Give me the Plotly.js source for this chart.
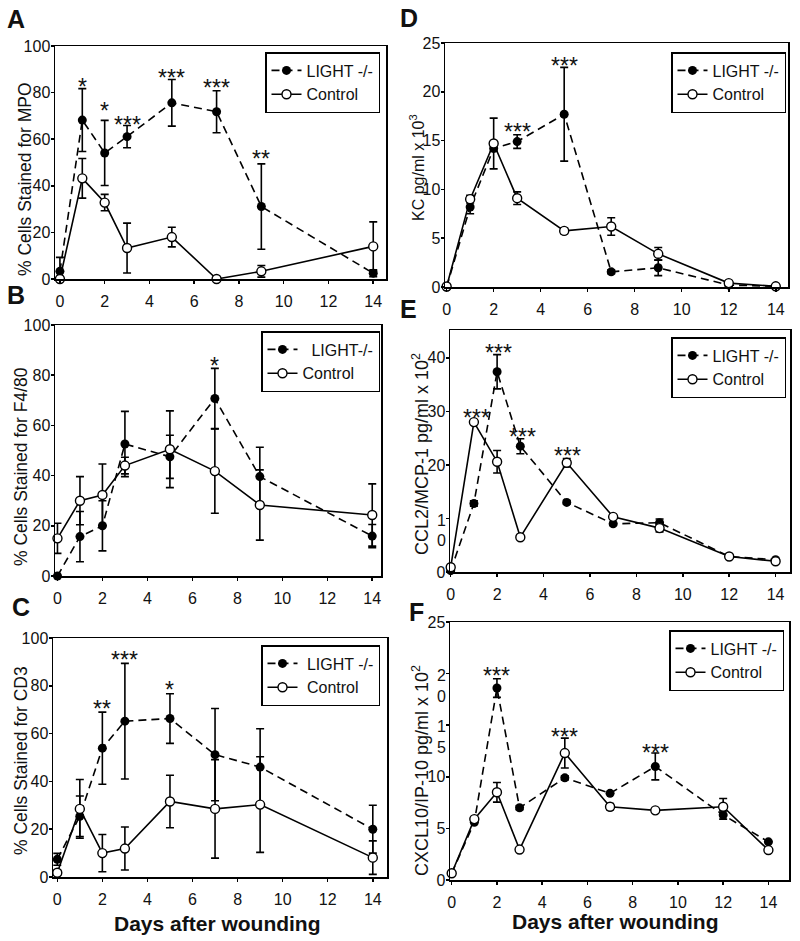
<!DOCTYPE html>
<html><head><meta charset="utf-8">
<script src="https://cdn.plot.ly/plotly-3.0.1.min.js"></script>
<style>html,body{margin:0;padding:0;background:#fff}#chart{width:800px;height:941px}</style>
</head><body><div id="chart"></div>
<script>
// ---------- DATA ----------
const daysABC = [0, 1, 2, 3, 5, 7, 9, 14];
const daysDEF = [0, 1, 2, 3, 5, 7, 9, 12, 14];

// A: % Cells Stained for MPO
const A_light = [3.3, 68.2, 54.1, 61.1, 75.6, 71.8, 31.1, 2.5];
const A_lightErr = [6, 13.5, 14, 4.8, 10, 9, 18.3, 1.5];
const A_ctrl = [0, 43.2, 32.8, 13.3, 18, 0, 3.3, 14];
const A_ctrlErr = [0, 8.5, 3.5, 10.7, 4.2, 0, 2.5, 10.5];
const A_starX = [1, 2, 3, 5, 7, 9];
const A_starY = [85.3, 75.3, 69, 89.3, 84.9, 54.6];
const A_starT = ['*', '*', '***', '***', '***', '**'];

// B: % Cells Stained for F4/80
const B_light = [0, 15.7, 20, 52.6, 47.5, 70.7, 39.6, 15.9];
const B_lightErr = [0, 10, 10, 13, 8.6, 12, 11.7, 4.6];
const B_ctrl = [15, 30, 32.3, 44, 50.5, 41.8, 28.3, 24.3];
const B_ctrlErr = [6, 9.6, 12.3, 3.3, 15.3, 16.8, 14, 12.4];
const B_starX = [7];
const B_starY = [86.3];
const B_starT = ['*'];

// C: % Cells Stained for CD3
const C_light = [7.4, 25.4, 53.9, 65.2, 66.3, 51.2, 46, 20];
const C_lightErr = [2.5, 8.5, 15.1, 24.2, 10.4, 19.3, 16, 10];
const C_ctrl = [1.8, 28.5, 10, 11.9, 31.6, 28.5, 30.3, 8.1];
const C_ctrlErr = [1, 12.3, 7.8, 9, 11, 20.6, 20, 7];
const C_starX = [2, 3, 5];
const C_starY = [73.4, 93.7, 81];
const C_starT = ['**', '***', '*'];

// D: KC pg/ml x 10^3
const D_light = [0, 8.2, 14.2, 14.9, 17.7, 1.55, 1.97, 0.2, 0.07];
const D_lightErr = [0, 0.7, 0.3, 0.7, 4.8, 0.2, 0.8, 0, 0];
const D_ctrl = [0.05, 9.0, 14.7, 9.1, 5.75, 6.2, 3.4, 0.4, 0.07];
const D_ctrlErr = [0, 0.4, 2.6, 0.65, 0.3, 0.9, 0.65, 0, 0];
const D_starX = [3, 5];
const D_starY = [16.55, 23.4];
const D_starT = ['***', '***'];

// E: CCL2/MCP-1 pg/ml x 10^2
const E_light = [0.25, 12.8, 37.4, 23.5, 13.0, 9.0, 9.2, 2.9, 2.3];
const E_lightErr = [0, 0.5, 3.2, 1.4, 0.3, 0.3, 0.7, 0, 0];
const E_ctrl = [0.9, 28.0, 20.6, 6.5, 20.4, 10.3, 8.2, 2.9, 2.0];
const E_ctrlErr = [0, 0, 2.1, 0, 0.8, 0, 0.7, 0, 0];
const E_starX = [1.1, 2.05, 3.1, 5.05];
const E_starY = [30, 42.2, 26.6, 22.9];
const E_starT = ['***', '***', '***', '***'];
const E_tickVals = [0, 20, 30, 40];
const E_tickText = ['0', '20', '30', '40'];
const E_wrapVals = [10];
const E_wrapText = ['1<br>0'];

// F: CXCL10/IP-10 pg/ml x 10^2
const F_light = [0.65, 5.6, 18.6, 7.0, 9.9, 8.4, 11.0, 6.3, 3.7];
const F_lightErr = [0, 0, 0.9, 0.2, 0.2, 0, 1.3, 0.4, 0];
const F_ctrl = [0.65, 5.9, 8.5, 2.95, 12.3, 7.1, 6.75, 7.1, 2.9];
const F_ctrlErr = [0, 0, 0.95, 0, 1.45, 0.3, 0, 0.8, 0];
const F_starX = [2, 5, 9];
const F_starY = [20.4, 14.5, 13];
const F_starT = ['***', '***', '***'];
const F_tickVals = [0, 5, 10, 25];
const F_tickText = ['0', '5', '10', '25'];
const F_wrapVals = [15, 20];
const F_wrapText = ['1<br>5', '2<br>0'];

const xTickVals = [0, 2, 4, 6, 8, 10, 12, 14];

// ---------- LAYOUT HELPERS ----------
const W = 800, H = 941;
const FONT = 'Liberation Sans, Arial, Helvetica, sans-serif';
const px = x => x / W;
const py = y => 1 - y / H;

const panels = [
  {id: '', x: [55, 386], y: [46, 279], xr: [-0.22, 14.57], yr: [0, 100], dtick: 20,
   days: daysABC, light: A_light, lErr: A_lightErr, ctrl: A_ctrl, cErr: A_ctrlErr,
   sx: A_starX, sy: A_starY, st: A_starT, nameL: 'LIGHT -/-', nameC: 'Control', leg: [380, 52]},
  {id: '2', x: [55, 381], y: [325, 576], xr: [-0.11, 14.39], yr: [0, 100], dtick: 20,
   days: daysABC, light: B_light, lErr: B_lightErr, ctrl: B_ctrl, cErr: B_ctrlErr,
   sx: B_starX, sy: B_starY, st: B_starT, nameL: '\u00a0 LIGHT-/-', nameC: 'Control', leg: [380, 331]},
  {id: '3', x: [53, 387], y: [638, 877], xr: [-0.19, 14.63], yr: [0, 100], dtick: 20,
   days: daysABC, light: C_light, lErr: C_lightErr, ctrl: C_ctrl, cErr: C_ctrlErr,
   sx: C_starX, sy: C_starY, st: C_starT, nameL: '\u00a0LIGHT -/-', nameC: '\u00a0Control', leg: [380, 645]},
  {id: '4', x: [445, 788], y: [43, 287], xr: [-0.07, 14.52], yr: [0, 25], dtick: 5,
   days: daysDEF, light: D_light, lErr: D_lightErr, ctrl: D_ctrl, cErr: D_ctrlErr,
   sx: D_starX, sy: D_starY, st: D_starT, nameL: 'LIGHT -/-', nameC: 'Control', leg: [786, 52]},
  {id: '5', x: [450, 790], y: [330, 572], xr: [-0.03, 14.62], yr: [0, 45.2], tv: E_tickVals, tt: E_tickText,
   wv: E_wrapVals, wt: E_wrapText, ov: '7',
   days: daysDEF, light: E_light, lErr: E_lightErr, ctrl: E_ctrl, cErr: E_ctrlErr,
   sx: E_starX, sy: E_starY, st: E_starT, nameL: 'LIGHT -/-', nameC: 'Control', leg: [786, 337]},
  {id: '6', x: [450, 789], y: [622, 880], xr: [-0.075, 14.91], yr: [0, 25], tv: F_tickVals, tt: F_tickText,
   wv: F_wrapVals, wt: F_wrapText, ov: '8',
   days: daysDEF, light: F_light, lErr: F_lightErr, ctrl: F_ctrl, cErr: F_ctrlErr,
   sx: F_starX, sy: F_starY, st: F_starT, nameL: 'LIGHT -/-', nameC: 'Control', leg: [784, 630]}
];

const traces = [];
const layout = {
  width: W, height: H, margin: {l: 0, r: 0, t: 0, b: 0},
  paper_bgcolor: '#fff', plot_bgcolor: '#fff',
  font: {family: FONT, color: '#111', size: 16},
  showlegend: true, annotations: []
};

const axBase = {
  showgrid: false, zeroline: false, showline: true, mirror: true,
  linecolor: '#000', linewidth: 1.5, ticks: 'outside', ticklen: 3, tickwidth: 1.5, tickcolor: '#000',
  tickfont: {family: FONT, size: 16, color: '#111'}, fixedrange: true
};

panels.forEach((p, i) => {
  const xa = 'x' + p.id, ya = 'y' + p.id;
  const legId = 'legend' + p.id;
  const errStyle = arr => ({type: 'data', array: arr, visible: true, color: '#000', thickness: 1.6, width: 4});
  traces.push({
    x: p.days, y: p.light, xaxis: xa, yaxis: ya, name: p.nameL, legend: legId,
    mode: 'lines+markers', type: 'scatter', cliponaxis: false,
    line: {color: '#000', width: 1.6, dash: '8px,5px'},
    marker: {color: '#000', size: 9, symbol: 'circle'},
    error_y: errStyle(p.lErr)
  });
  traces.push({
    x: p.days, y: p.ctrl, xaxis: xa, yaxis: ya, name: p.nameC, legend: legId,
    mode: 'lines+markers', type: 'scatter', cliponaxis: false,
    line: {color: '#000', width: 1.6},
    marker: {color: '#fff', size: 9, symbol: 'circle', line: {color: '#000', width: 1.4}},
    error_y: errStyle(p.cErr)
  });
  layout['xaxis' + p.id] = Object.assign({}, axBase, {
    domain: [px(p.x[0]), px(p.x[1])], range: p.xr, anchor: ya,
    tickmode: 'array', tickvals: xTickVals, ticklabelstandoff: 4
  });
  const yax = Object.assign({}, axBase, {
    domain: [py(p.y[1]), py(p.y[0])], range: p.yr, anchor: xa, ticklabelstandoff: -3
  });
  if (p.tv) { yax.tickmode = 'array'; yax.tickvals = p.tv; yax.ticktext = p.tt; }
  else { yax.dtick = p.dtick; yax.tick0 = 0; }
  layout['yaxis' + p.id] = yax;
  if (p.ov) {
    // overlay axis carrying the wrapped (two-line) tick labels, first line at the tick
    layout['yaxis' + p.ov] = {
      overlaying: ya, anchor: xa, side: 'left', range: p.yr, fixedrange: true,
      showgrid: false, zeroline: false, showline: false,
      ticks: 'outside', ticklen: 3, tickwidth: 1.5, tickcolor: '#000',
      tickmode: 'array', tickvals: p.wv, ticktext: p.wt, ticklabelshift: 12, ticklabelstandoff: -3,
      tickfont: {family: FONT, size: 16, color: '#111'}
    };
    traces.push({x: [], y: [], xaxis: xa, yaxis: 'y' + p.ov, type: 'scatter', mode: 'markers',
      showlegend: false, hoverinfo: 'skip'});
  }
  layout[legId] = {
    x: px(p.leg[0]), y: py(p.leg[1]), xanchor: 'right', yanchor: 'top', xref: 'paper', yref: 'paper',
    bgcolor: '#fff', bordercolor: '#000', borderwidth: 1.5,
    font: {family: FONT, size: 16, color: '#111'}, tracegroupgap: 0, itemwidth: 30
  };
  p.sx.forEach((sx, k) => {
    layout.annotations.push({
      x: sx, y: p.sy[k], xref: xa, yref: ya, text: p.st[k], showarrow: false,
      font: {family: FONT, size: 23, color: '#111'}, xanchor: 'center', yanchor: 'middle', yshift: -7
    });
  });
});

// axis titles and panel letters (as paper annotations)
const yTitles = [
  {t: '% Cells Stained for MPO', x: 25, y: 179, s: 17.5},
  {t: '% Cells Stained for F4/80', x: 21, y: 467, s: 17.5},
  {t: '% Cells Stained for CD3', x: 21, y: 761, s: 17.5},
  {t: 'KC pg/ml x 10<sup>3</sup>', x: 417, y: 168, s: 16},
  {t: 'CCL2/MCP-1 pg/ml x 10<sup>2</sup>', x: 420, y: 454, s: 18},
  {t: 'CXCL10/IP-10 pg/ml x 10<sup>2</sup>', x: 420, y: 771, s: 18}
];
yTitles.forEach(a => layout.annotations.push({
  x: px(a.x), y: py(a.y), xref: 'paper', yref: 'paper', text: a.t, textangle: -90,
  showarrow: false, xanchor: 'center', yanchor: 'middle', font: {family: FONT, size: a.s, color: '#111'}
}));
[[217, 923], [615, 921]].forEach(c => layout.annotations.push({
  x: px(c[0]), y: py(c[1]), xref: 'paper', yref: 'paper', text: '<b>Days after wounding</b>',
  showarrow: false, xanchor: 'center', yanchor: 'middle', font: {family: FONT, size: 21, color: '#111'}
}));
[['A', 16, 19], ['B', 16, 295], ['C', 21, 607], ['D', 409, 18], ['E', 408, 309], ['F', 416, 612]].forEach(c =>
  layout.annotations.push({
    x: px(c[1]), y: py(c[2]), xref: 'paper', yref: 'paper', text: '<b>' + c[0] + '</b>',
    showarrow: false, xanchor: 'center', yanchor: 'middle', font: {family: FONT, size: 25, color: '#111'}
  }));

Plotly.newPlot('chart', traces, layout, {displayModeBar: false, staticPlot: true});
</script></body></html>
